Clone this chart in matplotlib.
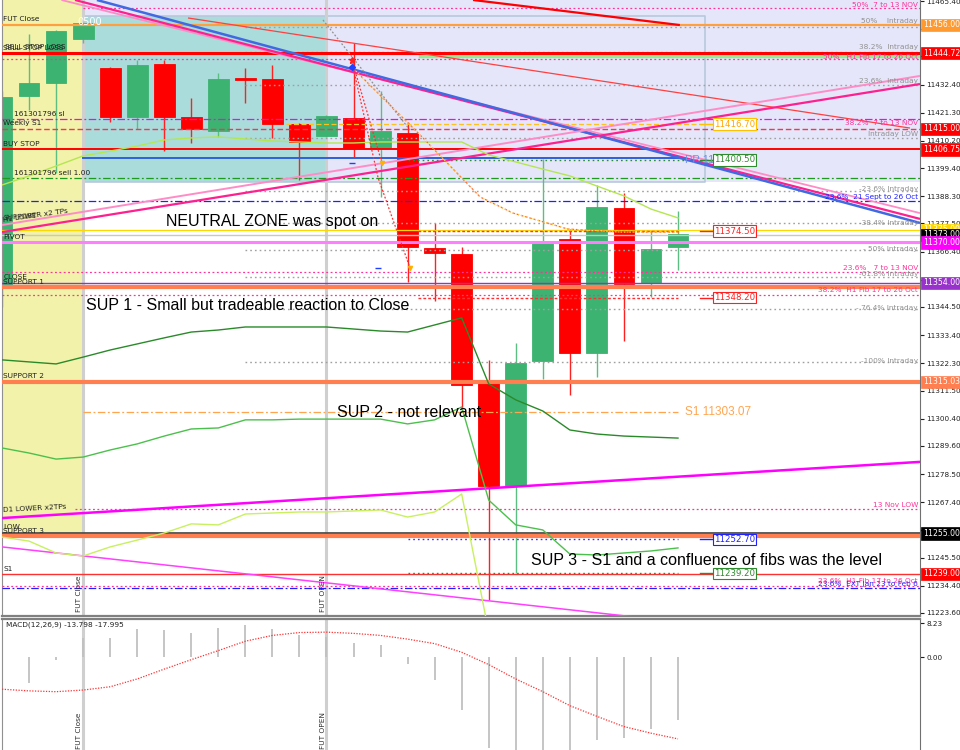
import matplotlib
matplotlib.use('Agg')
import matplotlib.pyplot as plt
import matplotlib.transforms as mtransforms

# ---------------- data ----------------
opens  = [11353.2, 11427.9, 11433.0, 11450.4, 11438.9, 11419.6, 11440.5, 11419.6, 11414.0, 11435.0,
          11434.6, 11416.8, 11412.1, 11419.2, 11407.3, 11413.2, 11367.8, 11365.4, 11314.5, 11273.8,
          11323.2, 11371.4, 11326.3, 11383.6, 11354.0, 11368.2]
highs  = [11430.0, 11452.4, 11454.0, 11458.0, 11439.5, 11442.1, 11442.1, 11427.1, 11437.0, 11438.9,
          11440.1, 11417.2, 11420.5, 11448.8, 11429.8, 11417.6, 11377.7, 11368.2, 11323.6, 11330.3,
          11403.0, 11375.3, 11392.7, 11389.5, 11374.9, 11382.4]
lows   = [11344.5, 11422.3, 11397.4, 11449.0, 11417.6, 11414.8, 11406.1, 11409.3, 11411.7, 11425.1,
          11411.3, 11394.7, 11411.5, 11403.4, 11388.0, 11354.4, 11346.9, 11303.8, 11228.7, 11239.4,
          11316.1, 11309.7, 11316.8, 11331.1, 11348.4, 11359.1]
closes = [11427.5, 11433.0, 11453.5, 11456.7, 11419.6, 11440.1, 11419.6, 11414.8, 11434.6, 11434.2,
          11416.8, 11409.7, 11420.0, 11407.3, 11414.0, 11368.2, 11365.8, 11313.7, 11273.8, 11322.4,
          11370.2, 11326.3, 11384.0, 11353.6, 11367.4, 11373.3]

ma_yellowgreen = [11392.7, 11396.3, 11400.2, 11404.2, 11406.1, 11408.1, 11410.5, 11411.3, 11411.7, 11410.9,
                  11410.1, 11409.7, 11409.3, 11409.3, 11409.7, 11409.7, 11409.7, 11409.7, 11404.6, 11401.8,
                  11399.0, 11396.3, 11392.3, 11388.4, 11383.2, 11379.7]
ma_darkgreen = [11323.6, 11322.8, 11322.0, 11324.7, 11327.5, 11329.9, 11332.3, 11334.6, 11335.4, 11336.6,
                11336.6, 11336.6, 11336.6, 11335.8, 11335.0, 11334.6, 11337.4, 11340.2, 11314.1, 11307.8,
                11303.4, 11295.9, 11294.3, 11293.5, 11293.1, 11292.7]
ma_midgreen = [11288.8, 11286.8, 11284.4, 11285.2, 11288.0, 11290.4, 11293.5, 11296.3, 11296.7, 11299.9,
               11299.9, 11300.2, 11300.2, 11300.2, 11300.2, 11298.3, 11299.9, 11305.0, 11268.2, 11258.4,
               11256.4, 11246.9, 11246.5, 11247.3, 11248.1, 11249.3]
ma_lightgreen = [11253.6, 11252.0, 11247.3, 11246.1, 11249.7, 11252.4, 11255.2, 11258.8, 11258.4, 11262.7,
                 11263.1, 11263.5, 11263.5, 11263.9, 11264.3, 11261.5, 11263.5, 11270.6, 11216.0]

macd_hist = [-11.1, -6.2, -0.6, 4.7, 4.7, 6.8, 6.6, 5.8, 7.0, 7.8, 6.8, 5.3, 4.9, 3.5, 3.0,
             -1.6, -5.5, -12.9, -22.2, -23.0, -22.5, -22.9, -20.2, -19.6, -17.5, -15.2]
macd_signal = [-7.8, -8.2, -8.4, -8.0, -7.2, -5.3, -2.9, -0.6, 1.6, 3.9, 5.3, 6.0, 6.1, 5.8, 5.3,
               4.4, 3.3, 1.2, -1.8, -5.3, -8.4, -11.8, -14.4, -16.9, -18.5, -19.9]

tick_values = [11465.40, 11454.50, 11443.60, 11432.40, 11421.30, 11410.20, 11399.40, 11388.30,
               11377.50, 11366.40, 11355.30, 11344.50, 11333.40, 11322.30, 11311.50, 11300.40,
               11289.60, 11278.50, 11267.40, 11256.30, 11245.50, 11234.40, 11223.60]
tick_labels = ['11465.40', '11454.50', '', '11432.40', '11421.30', '11410.20', '11399.40', '11388.30',
               '11377.50', '11366.40', '', '11344.50', '11333.40', '11322.30', '11311.50', '11300.40',
               '11289.60', '11278.50', '11267.40', '', '11245.50', '11234.40', '11223.60']

levels = {
    'nov_50': 11462.6, 'fut_close': 11456.0, 'intra_50': 11455.2, 'intra_382': 11445.1,
    'sell_stop': 11444.72, 'h1_50_band': 11443.7, 'h1_50': 11442.5, 'intra_236': 11432.2,
    'weekly_s1': 11418.8, 'sl_yellow': 11416.7, 'nov_382': 11415.0, 'intra_low': 11411.3,
    'buy_stop': 11406.75, 'pp': 11403.4, 'pp_green': 11402.6, 'sell_entry': 11395.5,
    'intra_m236': 11390.4, 'sept_236': 11386.4, 'intra_m382': 11377.5, 'lvl_375': 11375.0,
    'red_3745': 11374.5, 'close_373': 11373.0, 'pivot': 11370.0, 'intra_m50': 11367.0,
    'nov_236': 11358.3, 'intra_m618': 11356.5, 'purple_354': 11354.0, 'support1': 11352.4,
    'h1_382': 11349.2, 'red_3482': 11348.2, 'intra_m764': 11343.6, 'intra_m100': 11322.7,
    'support2': 11315.03, 's1_pivot': 11303.07, 'nov13_low': 11264.7, 'black_255': 11255.0,
    'support3': 11254.0, 'blue_2527': 11252.7, 's1': 11239.0, 'green_2392': 11239.2,
    'h1_236': 11234.3, 'ext_236': 11233.5,
}

axis_box_prices = [11456.00, 11444.72, 11415.00, 11406.75, 11375.00, 11373.00, 11370.00,
                   11354.00, 11315.03, 11255.00, 11239.00]
axis_box_labels = ['11456.00', '11444.72', '11415.00', '11406.75', '11375.00', '11373.00',
                   '11370.00', '11354.00', '11315.03', '11255.00', '11239.00']

# trend lines: (x0, x1), (p0, p1) in bar index / price
trend_blue = ([3.51, 33.95], [11465.8, 11377.7])
trend_pink_desc = ([2.70, 33.95], [11465.8, 11379.3])
trend_lpink_desc = ([2.20, 33.95], [11465.8, 11381.6])
trend_red_thin = ([6.88, 33.58], [11458.7, 11415.2])
trend_red_thick = ([17.42, 25.07], [11465.8, 11455.9])
trend_lpink_asc = ([0.0, 33.95], [11376.9, 11435.8])
trend_pink_asc = ([0.0, 33.95], [11374.1, 11432.6])
trend_mag_asc = ([0.0, 33.95], [11261.1, 11283.3])
trend_mag_desc = ([0.0, 23.41], [11249.7, 11222.0])

trade_gray = ([11.87, 15.09], [11457.9, 11414.4])
trade_red_a = ([12.94, 14.05], [11442.1, 11401.4])
trade_red_b = ([12.94, 13.91, 15.09], [11441.3, 11395.5, 11359.9])
trade_orange = ([13.05, 15.46, 17.68, 18.90, 20.93, 22.86, 25.07],
                [11438.1, 11412.5, 11388.0, 11381.6, 11375.3, 11374.1, 11374.1])

# ---------------- figure ----------------
W, H = 960, 750
fig = plt.figure(figsize=(W / 100, H / 100), dpi=100, facecolor='white')
ax = fig.add_axes([2 / W, (H - 616) / H, 918 / W, 616 / H])
ax2 = fig.add_axes([2 / W, 0, 918 / W, 131 / H])

XMAX = 33.95
ax.set_xlim(0, XMAX)
ax.set_ylim(11222.4, 11465.8)
ax2.set_xlim(0, XMAX)
ax2.set_ylim(-22.6, 9.3)

SMALL = dict(family='DejaVu Sans', fontsize=5.3)
BIG = dict(family='Liberation Sans', fontsize=11.5, color='black')

# background zones
ax.fill_between([3, XMAX], 11393.9, 11470, color='#E6E6FA', zorder=0, lw=0)
ax.fill_between([3, 12], 11393.9, 11459.5, color='#AADCDC', zorder=0.1, lw=0)
ax.fill_between([-1, 3], 11253.6, 11470, color='#F2F2AA', zorder=0.2, lw=0)
ax.plot([3, 26.0, 26.0, 3, 3], [11459.5, 11459.5, 11393.9, 11393.9, 11459.5],
        color='#B8C8DC', lw=1.2, zorder=0.3)
ax.plot([12, 12], [11393.9, 11459.5], color='#7FE0E0', lw=1.2, zorder=0.35)

# vertical session lines
for a in (ax, ax2):
    for xv in (3, 12):
        a.axvline(xv, color='#CFCFCF', lw=2.2, zorder=0.4)

# candles
bw = 0.77
for i, (o, h, l, c) in enumerate(zip(opens, highs, lows, closes)):
    col = '#3CB371' if c >= o else '#FF0000'
    wcol = '#5DBE84' if c >= o else '#FF2020'
    ax.vlines(i, l, h, color=wcol, lw=1.0, zorder=2)
    ax.bar(i, abs(c - o), bottom=min(o, c), width=bw, color=col, edgecolor=col,
           lw=0.6, zorder=2.1)

# horizontal levels: name, x0, x1, color, lw, linestyle
DOT = (0, (1.2, 2.2))
PDOT = (0, (1.5, 2.0))
DASHDOT = (0, (6, 2, 1.5, 2))
DASH = (0, (4, 2))
level_styles = [
    ('nov_50', 3, XMAX, '#FF3399', 0.9, PDOT),
    ('intra_50', 9, XMAX, '#A0A0A0', 1.0, DOT),
    ('fut_close', 0, XMAX, '#FFA040', 1.6, '-'),
    ('intra_382', 9, XMAX, '#A0A0A0', 1.0, DOT),
    ('h1_50_band', 15.5, XMAX, '#90EE90', 3.2, '-'),
    ('sell_stop', 0, XMAX, '#FF0000', 2.2, '-'),
    ('h1_50', 0, XMAX, '#FF3399', 0.9, PDOT),
    ('intra_236', 9, XMAX, '#A0A0A0', 1.0, DOT),
    ('weekly_s1', 0, XMAX, '#FF00FF', 0.9, DASHDOT),
    ('sl_yellow', 10.5, 25.8, '#FFC020', 0.9, DASH),
    ('nov_382', 0, XMAX, '#FF3050', 1.0, DASH),
    ('intra_low', 9, XMAX, '#A0A0A0', 1.0, DOT),
    ('buy_stop', 0, XMAX, '#FF0000', 1.4, '-'),
    ('pp', 3, 25.2, '#3060D8', 1.4, '-'),
    ('pp_green', 15, 26.3, '#2E8B2E', 1.0, DOT),
    ('sell_entry', 0, XMAX, '#1E9A1E', 0.9, DASHDOT),
    ('intra_m236', 9, XMAX, '#A0A0A0', 1.0, DOT),
    ('sept_236', 0, XMAX, '#2020FF', 0.9, DASHDOT),
    ('intra_m382', 9, XMAX, '#A0A0A0', 1.0, DOT),
    ('lvl_375', 0, XMAX, '#FFD700', 0.9, '-'),
    ('red_3745', 15.4, 25.0, '#FF3030', 1.0, (0, (2, 1.5))),
    ('close_373', 0, XMAX, '#C8C8C8', 1.0, '-'),
    ('pivot', 0, XMAX, '#FF80FF', 2.2, '-'),
    ('intra_m50', 9, XMAX, '#A0A0A0', 1.0, DOT),
    ('nov_236', 0, XMAX, '#FF3399', 0.9, PDOT),
    ('intra_m618', 9, XMAX, '#A0A0A0', 1.0, DOT),
    ('purple_354', 0, XMAX, '#9932CC', 1.0, '-'),
    ('support1', 0, XMAX, '#FF7F50', 3.0, '-'),
    ('h1_382', 0, XMAX, '#FF3399', 0.9, PDOT),
    ('red_3482', 15.4, 25.0, '#FF3030', 1.0, (0, (2, 1.5))),
    ('intra_m764', 9, XMAX, '#A0A0A0', 1.0, DOT),
    ('intra_m100', 9, XMAX, '#A0A0A0', 1.0, DOT),
    ('support2', 0, XMAX, '#FF7F50', 3.0, '-'),
    ('s1_pivot', 3, 25.0, '#FFA550', 0.9, DASHDOT),
    ('nov13_low', 2.7, XMAX, '#FF3399', 0.9, PDOT),
    ('support3', 0, XMAX, '#FF7F50', 3.0, '-'),
    ('black_255', 0, XMAX, '#505050', 1.3, '-'),
    ('blue_2527', 15.0, 25.0, '#3030FF', 1.0, DOT),
    ('s1', 0, XMAX, '#FF3030', 1.0, '-'),
    ('green_2392', 15.0, 25.0, '#2E8B2E', 1.0, DOT),
    ('h1_236', 0, XMAX, '#FF3399', 0.9, PDOT),
    ('ext_236', 0, XMAX, '#2020FF', 0.9, DASHDOT),
]
for name, x0, x1, colr, lw, ls in level_styles:
    ax.plot([x0, x1], [levels[name]] * 2, color=colr, lw=lw, ls=ls, zorder=3)

# trend lines
for (xs, ps), colr, lw in [
    (trend_lpink_desc, '#FF8CC6', 1.3), (trend_pink_desc, '#FF2090', 1.6),
    (trend_blue, '#4169E1', 1.8), (trend_red_thin, '#FF4040', 0.9),
    (trend_red_thick, '#FF0000', 1.6), (trend_lpink_asc, '#FF8CC6', 1.4),
    (trend_pink_asc, '#FF2090', 1.6), (trend_mag_asc, '#FF00FF', 1.8),
    (trend_mag_desc, '#FF40FF', 1.1)]:
    ax.plot(xs, ps, color=colr, lw=lw, zorder=3.5, solid_capstyle='butt')

# moving averages
idx = list(range(len(closes)))
ax.plot(idx, ma_yellowgreen, color='#B4E650', lw=1.0, zorder=3.6)
ax.plot(idx, ma_darkgreen, color='#2A8A2A', lw=1.0, zorder=3.6)
ax.plot(idx, ma_midgreen, color='#4CC04C', lw=1.0, zorder=3.6)
ax.plot(idx[:len(ma_lightgreen)], ma_lightgreen, color='#C8F060', lw=1.0, zorder=3.6)

# trade arrows
ax.plot(*trade_gray, color='#909090', lw=0.9, ls=(0, (1.5, 1.5)), zorder=3.7)
ax.plot(*trade_red_a, color='#FF3030', lw=0.9, ls=(0, (1.5, 1.5)), zorder=3.7)
ax.plot(*trade_red_b, color='#FF3030', lw=0.9, ls=(0, (1.5, 1.5)), zorder=3.7)
ax.plot(*trade_orange, color='#FF6A20', lw=0.9, ls=(0, (2, 1.5)), zorder=3.7)
ax.plot(*trade_orange, color='#FFE060', lw=0.6, ls=(1.8, (1.5, 2.0)), zorder=3.71)
ax.plot([trade_red_a[0][1], trade_red_b[0][2]], [trade_red_a[1][1], trade_red_b[1][2]],
        ls='none', marker='v', ms=3, color='#FFB000', zorder=3.8)
ax.plot([12.94], [11442.1], marker='*', ms=5, color='#FF2020', zorder=3.8)
ax.plot([12.94], [11439.3], marker='D', ms=3, color='#2040FF', zorder=3.8)
ax.plot([12.94, 13.91], [11401.2, 11359.9], ls='none', marker='_', ms=4, color='#2040FF', zorder=3.8)

# in-chart boxed labels
inbox = [
    (26.33, levels['sl_yellow'], '11416.70', '#FFA500', '#FFC000'),
    (26.33, levels['pp_green'], '11400.50', '#2E8B2E', '#2E8B2E'),
    (26.33, levels['red_3745'], '11374.50', '#FF2020', '#FF2020'),
    (26.33, levels['red_3482'], '11348.20', '#FF2020', '#FF2020'),
    (26.33, levels['blue_2527'], '11252.70', '#2020FF', '#2020FF'),
    (26.33, levels['green_2392'], '11239.20', '#2E8B2E', '#2E8B2E'),
]
for x, p, t, tc, ec in inbox:
    ax.plot([x - 0.5, x], [p, p], color=ec, lw=1.0, zorder=4)
    ax.text(x, p, t, color=tc, ha='left', va='center', zorder=5,
            bbox=dict(boxstyle='square,pad=0.15', fc='white', ec=ec, lw=0.8),
            family='DejaVu Sans', fontsize=6.2)
ax.text(25.25, levels['pp'] - 0.8, 'PP 11400.50', color='#7090E0', ha='left', va='center',
        family='Liberation Sans', fontsize=8, zorder=4.5)
ax.text(25.25, levels['s1_pivot'], 'S1 11303.07', color='#FFA550', ha='left', va='center',
        family='Liberation Sans', fontsize=8.5, zorder=4.5)

# right-side fib labels
XR = 33.88
right_labels = [
    (11462.6, '50%  7 to 13 NOV', '#FF3399'),
    (11456.3, '50%    Intraday', '#909090'),
    (11446.0, '38.2%  Intraday', '#909090'),
    (11442.0, '50%   H1 Fib 17 to 26 Oct', '#FF3399'),
    (11432.6, '23.6%  Intraday', '#909090'),
    (11416.0, '38.2%  7 to 13 NOV', '#FF3399'),
    (11411.7, 'Intraday LOW', '#909090'),
    (11390.0, '-23.6% Intraday', '#909090'),
    (11386.8, '23.6%  21 Sept to 26 Oct', '#2020FF'),
    (11376.5, '-38.4% Intraday', '#909090'),
    (11366.2, '- 50% Intraday', '#909090'),
    (11358.7, '23.6%   7 to 13 NOV', '#FF3399'),
    (11356.4, '-61.8% Intraday', '#909090'),
    (11350.0, '38.2%  H1 Fib 17 to 26 Oct', '#FF3399'),
    (11342.9, '- 76.4% Intraday', '#909090'),
    (11322.0, '-100% Intraday', '#909090'),
    (11265.1, '13 Nov LOW', '#FF3399'),
    (11235.1, '23.6%  H1 Fib 17 to 26 Oct', '#FF3399'),
    (11233.9, '23.6%  EXT Jan 23 to Feb 6', '#2020FF'),
]
for p, t, c in right_labels:
    ax.text(XR, p, t, color=c, ha='right', va='bottom', zorder=4.6, **SMALL)

# left-side labels: x, price, text, rotation
left_labels = [
    (0.05, 11457.1, 'FUT Close', 0), (0.05, 11445.6, 'SELL STOP LOSS', 0),
    (0.12, 11445.9, 'SELL STOP LOSS', 0),
    (0.44, 11419.6, '161301796 sl', 0), (0.05, 11416.0, 'Weekly S1', 0),
    (0.05, 11407.7, 'BUY STOP', 0), (0.44, 11396.3, '161301796 sell 1.00', 0),
    (0.05, 11377.6, 'H1 LOWER x2 TPs', 8), (0.05, 11378.4, 'SUPPORT', 4),
    (0.05, 11371.0, 'PIVOT', 0), (0.05, 11355.2, 'CLOSE', 0),
    (0.05, 11353.2, 'SUPPORT 1', 0), (0.05, 11316.1, 'SUPPORT 2', 0),
    (0.05, 11263.1, 'D1 LOWER x2TPs', 3), (0.05, 11256.4, 'LOW', 0),
    (0.05, 11254.8, 'SUPPORT 3', 0), (0.05, 11239.8, 'S1', 0),
]
for x, p, t, r in left_labels:
    ax.text(x, p, t, color='#202020', ha='left', va='bottom', rotation=r,
            rotation_mode='anchor', zorder=4.6, **SMALL)

ax.text(2.77, 11455.1, '0500', color='white', ha='left', va='bottom',
        family='DejaVu Sans', fontsize=7, zorder=4.6)

# big annotations
ax.text(6.07, 11376.5, 'NEUTRAL ZONE was spot on', ha='left', va='baseline', zorder=6, **BIG)
ax.text(3.11, 11343.3, 'SUP 1 - Small but tradeable reaction to Close', ha='left',
        va='baseline', zorder=6, **BIG)
ax.text(12.39, 11301.0, 'SUP 2 - not relevant', ha='left', va='baseline', zorder=6, **BIG)
ax.text(19.56, 11242.6, 'SUP 3 - S1 and a confluence of fibs was the level', ha='left',
        va='baseline', zorder=6, **BIG)

# session labels (rotated)
ax.text(2.96, 11224.0, 'FUT Close', rotation=90, ha='right', va='bottom', color='#303030',
        zorder=4.6, **SMALL)
ax.text(11.98, 11224.0, 'FUT OPEN', rotation=90, ha='right', va='bottom', color='#303030',
        zorder=4.6, **SMALL)
ax2.text(2.96, -22.4, 'FUT Close', rotation=90, ha='right', va='bottom', color='#303030', **SMALL)
ax2.text(11.98, -22.4, 'FUT OPEN', rotation=90, ha='right', va='bottom', color='#303030', **SMALL)

# right axis
ax.yaxis.tick_right()
ax.set_yticks(tick_values)
ax.set_yticklabels(tick_labels)
ax.tick_params(axis='y', labelsize=5.2, length=3, width=0.8, pad=1.5, colors='#202020',
               direction='out')
ax.set_xticks([])
ax.spines['top'].set_visible(False)
ax.spines['left'].set_color('#909090')
ax.spines['right'].set_color('#707070')
ax.spines['bottom'].set_color('#808080')
ax.spines['bottom'].set_linewidth(1.6)

axis_box_colors = ['#FF9A30', '#FF0000', '#FF0000', '#FF0000', '#FFD700', '#000000',
                   '#FF00FF', '#9932CC', '#FF7F50', '#000000', '#FF0000']
trans = mtransforms.blended_transform_factory(ax.transAxes, ax.transData)
for p, t, c in zip(axis_box_prices, axis_box_labels, axis_box_colors):
    ax.text(1.003, p, t, transform=trans, ha='left', va='center', color='white',
            family='DejaVu Sans', fontsize=5.6, zorder=10, clip_on=False,
            bbox=dict(boxstyle='square,pad=0.2', fc=c, ec=c, lw=0.5))

# MACD panel
ax2.vlines(idx, 0, macd_hist, color='#C0C0C0', lw=1.3, zorder=2)
ax2.plot(idx, macd_signal, color='#FF3030', lw=0.9, ls=(0, (1, 1.2)), zorder=3)
ax2.yaxis.tick_right()
ax2.set_yticks([8.23, 0.0])
ax2.set_yticklabels(['8.23', '0.00'])
ax2.tick_params(axis='y', labelsize=5.2, length=3, width=0.8, pad=1.5, colors='#202020')
ax2.set_xticks([])
ax2.spines['bottom'].set_visible(False)
ax2.spines['top'].set_color('#808080')
ax2.spines['top'].set_linewidth(1.6)
ax2.spines['left'].set_color('#909090')
ax2.spines['right'].set_color('#707070')
ax2.text(0.004, 0.955, 'MACD(12,26,9) -13.798 -17.995', transform=ax2.transAxes,
         ha='left', va='center', color='#202020', **SMALL)

fig.savefig('out.png', dpi=100, facecolor='white')
